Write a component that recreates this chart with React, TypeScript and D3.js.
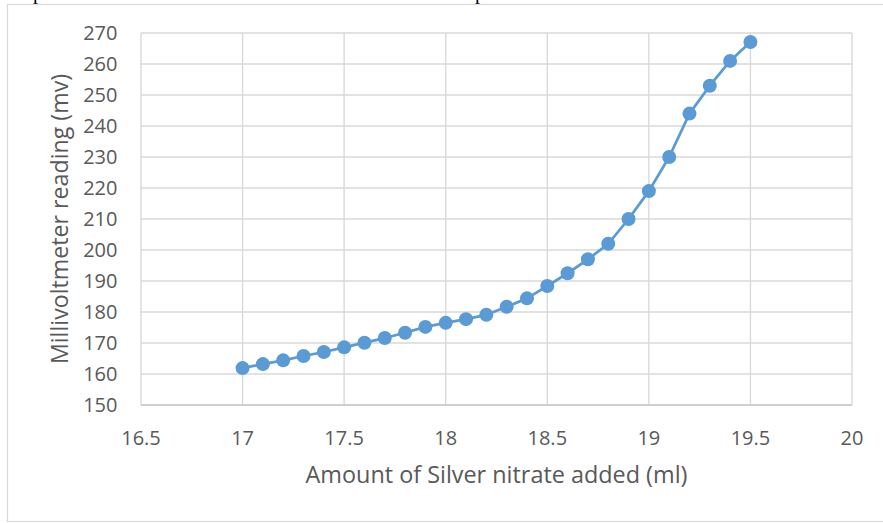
import React from "react";
import * as d3 from "d3";

const xValues: number[] = [17, 17.1, 17.2, 17.3, 17.4, 17.5, 17.6, 17.7, 17.8, 17.9, 18, 18.1, 18.2, 18.3, 18.4, 18.5, 18.6, 18.7, 18.8, 18.9, 19, 19.1, 19.2, 19.3, 19.4, 19.5];
const yValues: number[] = [161.9, 163.2, 164.4, 165.8, 167.1, 168.6, 170.1, 171.6, 173.3, 175.2, 176.5, 177.7, 179.1, 181.7, 184.4, 188.4, 192.5, 197, 202, 210, 219, 230, 244, 253, 261, 267.1];
const xTicks: number[] = [16.5, 17, 17.5, 18, 18.5, 19, 19.5, 20];
const yTicks: number[] = [150, 160, 170, 180, 190, 200, 210, 220, 230, 240, 250, 260, 270];
const xTitle = "Amount of Silver nitrate added (ml)";
const yTitle = "Millivoltmeter reading (mv)";

const W = 883;
const H = 523;
const FONT = "'Open Sans', Lato, sans-serif";
const TXT = "#595959";
const GRID = "#D9D9D9";
const BLUE = "#5B9BD5";

export default function App() {
  const x = d3.scaleLinear().domain([16.5, 20]).range([141, 852]);
  const y = d3.scaleLinear().domain([150, 270]).range([405, 33]);
  const pts = xValues.map((v, i) => [v, yValues[i]] as [number, number]);
  const line = d3
    .line<[number, number]>()
    .x((d) => x(d[0]))
    .y((d) => y(d[1]));

  return (
    <svg
      width={W}
      height={H}
      style={{ position: "absolute", left: 0, top: 0, background: "#fff" }}
    >
      <rect x={0} y={0} width={W} height={H} fill="#fff" />
      {/* caption fragments above the chart frame */}
      <text x={33} y={-1.5} fontFamily="'Liberation Serif', serif" fontSize={20} fill="#000">p</text>
      <text x={475} y={-1.5} fontFamily="'Liberation Serif', serif" fontSize={20} fill="#000">p</text>
      {/* chart frame */}
      <rect x={7.5} y={4.5} width={W + 10} height={517} fill="none" stroke={GRID} strokeWidth={1.2} />

      {/* grid */}
      {yTicks.map((t) => (
        <line key={"gy" + t} x1={141} x2={852} y1={y(t)} y2={y(t)} stroke={GRID} strokeWidth={1.4} />
      ))}
      {xTicks.map((t) => (
        <line key={"gx" + t} x1={x(t)} x2={x(t)} y1={33} y2={405} stroke={GRID} strokeWidth={1.4} />
      ))}
      <line x1={141} x2={852} y1={405} y2={405} stroke="#C8C8C8" strokeWidth={1.4} />

      {/* tick labels */}
      {yTicks.map((t) => (
        <text
          key={"ty" + t}
          x={117.5}
          y={y(t)}
          dy="0.36em"
          textAnchor="end"
          fontFamily={FONT}
          fontSize={20}
          fill={TXT}
        >
          {t}
        </text>
      ))}
      {xTicks.map((t) => (
        <text
          key={"tx" + t}
          x={x(t)}
          y={444.5}
          textAnchor="middle"
          fontFamily={FONT}
          fontSize={20}
          fill={TXT}
        >
          {t}
        </text>
      ))}

      {/* axis titles */}
      <text x={496.5} y={483} textAnchor="middle" fontFamily={FONT} fontSize={23.4} fill={TXT}>
        {xTitle}
      </text>
      <text
        transform={`translate(68,${(33 + 405) / 2}) rotate(-90)`}
        textAnchor="middle"
        fontFamily={FONT}
        fontSize={23.2}
        fill={TXT}
      >
        {yTitle}
      </text>

      {/* series */}
      <path d={line(pts) || ""} fill="none" stroke={BLUE} strokeWidth={2.75} strokeLinejoin="round" />
      {pts.map((d, i) => (
        <circle key={"p" + i} cx={x(d[0])} cy={y(d[1])} r={7} fill={BLUE} />
      ))}
    </svg>
  );
}
